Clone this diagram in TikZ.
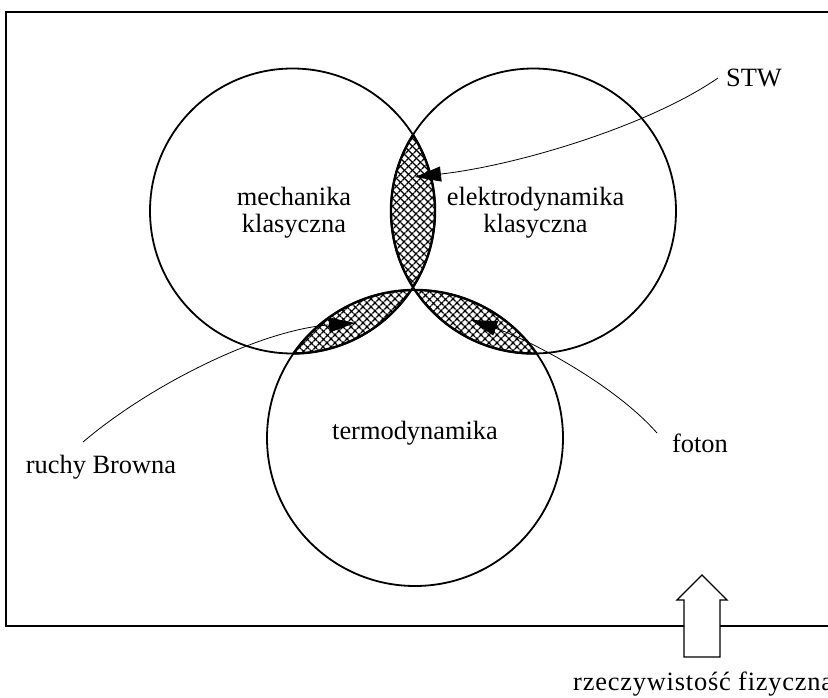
\documentclass[tikz,border=0pt]{standalone}
\usepackage{fontspec}
\setmainfont{Liberation Serif}
\newfontfamily\spacedfont[LetterSpace=3]{Liberation Serif}
\usetikzlibrary{arrows.meta,patterns.meta}
\begin{document}
\begin{tikzpicture}[x=1pt,y=-1pt,
  ring/.style={circle,draw,line width=1.8pt,inner sep=0pt,minimum size=#1},
  lbl/.style={font=\fontsize{26.4}{28}\selectfont,inner sep=0pt,anchor=base,align=center},
  conn/.style={line width=0.8pt,-{Triangle[length=26pt,width=15pt]}},
  hatchA/.style={pattern={Lines[angle=45,distance=5.4pt,line width=1.4pt]}},
  hatchB/.style={pattern={Lines[angle=-45,distance=5.4pt,line width=1.4pt]}},
  lensedge/.style={line width=2.4pt}]
\useasboundingbox (0,0) rectangle (828,698);
\clip (0,0) rectangle (828,698);
% frame
\draw[line width=1.6pt] (860,12) -- (6,12) -- (6,626) -- (860,626);
% lens: mechanika & elektrodynamika
\begin{scope}
  \clip (292.5,211) circle [radius=142.5pt];
  \fill[hatchA] (533.5,211) circle [radius=142.5pt];
  \fill[hatchB] (533.5,211) circle [radius=142.5pt];
  \draw[lensedge] (533.5,211) circle [radius=142.5pt];
\end{scope}
\begin{scope}
  \clip (533.5,211) circle [radius=142.5pt];
  \draw[lensedge] (292.5,211) circle [radius=142.5pt];
\end{scope}
% lens: mechanika & termodynamika
\begin{scope}
  \clip (292.5,211) circle [radius=142.5pt];
  \fill[hatchA] (415,438) circle [radius=148pt];
  \fill[hatchB] (415,438) circle [radius=148pt];
  \draw[lensedge] (415,438) circle [radius=148pt];
\end{scope}
\begin{scope}
  \clip (415,438) circle [radius=148pt];
  \draw[lensedge] (292.5,211) circle [radius=142.5pt];
\end{scope}
% lens: elektrodynamika & termodynamika
\begin{scope}
  \clip (533.5,211) circle [radius=142.5pt];
  \fill[hatchA] (415,438) circle [radius=148pt];
  \fill[hatchB] (415,438) circle [radius=148pt];
  \draw[lensedge] (415,438) circle [radius=148pt];
\end{scope}
\begin{scope}
  \clip (415,438) circle [radius=148pt];
  \draw[lensedge] (533.5,211) circle [radius=142.5pt];
\end{scope}
% circles
\node[ring=285pt] (mech) at (292.5,211) {};
\node[ring=285pt] (elek) at (533.5,211) {};
\node[ring=296pt] (term) at (415,438) {};
% labels
\node[lbl] (mechtxt) at (294,233) {mechanika\\klasyczna};
\node[lbl] (elektxt) at (535.5,233) {elektrodynamika\\klasyczna};
\node[lbl] (termtxt) at (415,439) {termodynamika};
\node[lbl] (stw) at (754,87) {STW};
\node[lbl] (brown) at (101,473) {ruchy Browna};
\node[lbl] (foton) at (700,452) {foton};
\node[font=\spacedfont\fontsize{26.4}{28}\selectfont,inner sep=0pt,anchor=base west] (rzecz) at (573,690) {rzeczywistość fizyczna};
% connectors
\coordinate (stwS) at (718,78);
\coordinate (stwT) at (415,177);
\draw[conn] (stwS) .. controls (650,125) and (520,165) .. (stwT);
\coordinate (brS) at (83,442);
\coordinate (brT) at (355,323);
\draw[conn] (brS) .. controls (150,385) and (260,330) .. (brT);
\coordinate (fS) at (657,433);
\coordinate (fT) at (471,320);
\draw[conn] (fS) .. controls (615,385) and (530,340) .. (fT);
% block arrow
\draw[line width=1.3pt,fill=white] (684,657) -- (684,600) -- (677,600) -- (702,575) -- (727,600) -- (720,600) -- (720,657) -- cycle;
\end{tikzpicture}
\end{document}
